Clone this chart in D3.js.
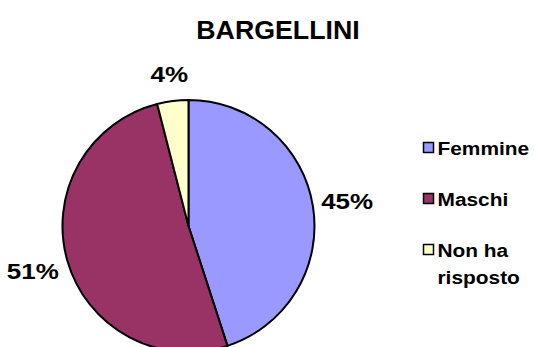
<!DOCTYPE html>
<html><head><meta charset="utf-8">
<script src="https://cdn.jsdelivr.net/npm/d3@7"></script>
<style>body{margin:0;background:#fff}svg{display:block}text{font-family:"Liberation Sans",Arial,sans-serif;font-weight:bold;fill:#000}</style>
</head><body><svg id="c" width="536" height="347"></svg>
<script>
const categories = ["Femmine", "Maschi", "Non ha risposto"];
const values = [45, 51, 4];
const labels = ["45%", "51%", "4%"];
const colors = ["#9999FF", "#993366", "#FFFFCC"];
const title = "BARGELLINI";

const svg = d3.select("#c");
const cx = 188.5, cy = 226, r = 126;
const sx = 1.16; // horizontal stretch of the original text rendering

function stretched(sel, x, y, size, k) {
  return sel.append("g").attr("transform", `translate(${x},${y}) scale(${k},1)`)
    .append("text").style("font-size", size + "px");
}

stretched(svg, 278, 38.5, 25, 1.07).attr("text-anchor", "middle").text(title);

const pie = d3.pie().sort(null).value(d => d)(values);
const arc = d3.arc().innerRadius(0).outerRadius(r);
const g = svg.append("g").attr("transform", `translate(${cx},${cy})`);
g.selectAll("path").data(pie).join("path")
  .attr("d", arc).attr("fill", (d, i) => colors[i])
  .attr("stroke", "#000").attr("stroke-width", 2).attr("stroke-linejoin", "round");

// labels outside, bbox-aware offset
const fs = 22, lk = 1.18, boxH = fs * 1.7, gap = 6;
pie.forEach((d, i) => {
  const a = (d.startAngle + d.endAngle) / 2;
  const ux = Math.sin(a), uy = -Math.cos(a);
  const t = stretched(g, 0, 0, fs, lk).attr("text-anchor", "middle").text(labels[i]);
  const w = t.node().getComputedTextLength() * lk;
  const ext = Math.abs(ux) * w / 2 + Math.abs(uy) * boxH / 2;
  const dist = r + gap + ext;
  const px = ux * dist, py = uy * dist + fs * 0.3465;
  d3.select(t.node().parentNode).attr("transform", `translate(${px},${py}) scale(${lk},1)`);
});

// legend
const legendLines = [["Femmine"], ["Maschi"], ["Non ha", "risposto"]];
const ly = d3.scalePoint().domain(categories).range([148, 250]);
categories.forEach((c, i) => {
  const y = ly(c);
  svg.append("rect").attr("x", 423.5).attr("y", y - 5.5).attr("width", 10).attr("height", 10)
    .attr("fill", colors[i]).attr("stroke", "#000").attr("stroke-width", 1.5);
  const t = stretched(svg, 437.5, y + 7, 18, sx);
  legendLines[i].forEach((ln, j) => {
    t.append("tspan").attr("x", 0).attr("dy", j === 0 ? 0 : 27).text(ln);
  });
});
</script></body></html>
